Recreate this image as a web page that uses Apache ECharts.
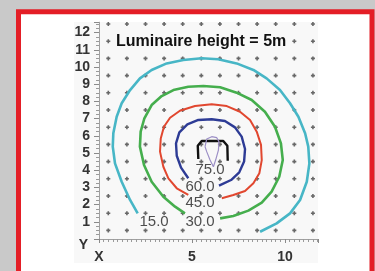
<!DOCTYPE html>
<html>
<head>
<meta charset="utf-8">
<script src="https://cdn.jsdelivr.net/npm/echarts@6/dist/echarts.min.js"></script>
<style>
  html,body{margin:0;padding:0;background:#c9c9c9;}
  #isoChart{width:375px;height:271px;}
</style>
</head>
<body>
<div id="isoChart"></div>
<script>
  // grid of measuring points (half-metre offsets)
  var gridX = [0.5,1.5,2.5,3.5,4.5,5.5,6.5,7.5,8.5,9.5,10.5,11.5];
  var gridY = [0.5,1.5,2.5,3.5,4.5,5.5,6.5,7.5,8.5,9.5,10.5,11.5,12.5];

  // isolines
  var line15 = [[2.08,1.49],[1.67,2.27],[1.22,3.33],[0.86,4.40],[0.74,5.37],[0.77,6.15],[0.95,7.11],[1.22,7.89],[1.67,8.66],[2.20,9.34],[2.83,9.83],[3.64,10.21],[4.53,10.41],[5.52,10.51],[6.41,10.45],[7.40,10.21],[8.30,9.83],[9.01,9.34],[9.73,8.66],[10.27,7.89],[10.72,7.11],[11.08,6.15],[11.25,5.37],[11.31,4.40],[11.17,3.33],[10.81,2.27],[10.27,1.49],[9.55,0.91],[8.66,0.42]];
  var line30 = [[4.62,1.49],[4.09,1.88],[3.46,2.46],[2.83,3.33],[2.42,4.30],[2.20,5.37],[2.24,6.24],[2.44,7.02],[2.83,7.79],[3.37,8.31],[4.00,8.66],[4.80,8.85],[5.61,8.90],[6.51,8.82],[7.40,8.51],[8.21,8.08],[8.92,7.40],[9.46,6.53],[9.78,5.56],[9.88,4.59],[9.69,3.62],[9.28,2.75],[8.75,2.11],[8.03,1.65],[7.22,1.34],[6.51,1.20]];
  var line45 = [[4.80,2.56],[4.18,2.95],[3.73,3.53],[3.46,4.20],[3.28,5.08],[3.32,5.85],[3.49,6.53],[3.82,7.05],[4.35,7.46],[5.16,7.73],[6.06,7.83],[6.87,7.73],[7.58,7.40],[8.12,6.92],[8.48,6.24],[8.71,5.47],[8.75,4.59],[8.62,3.82],[8.30,3.24],[7.85,2.79],[7.22,2.56],[6.60,2.37]];
  var line60 = [[4.80,3.53],[4.41,4.15],[4.18,4.84],[4.14,5.56],[4.32,6.20],[4.75,6.67],[5.34,6.92],[6.06,6.96],[6.77,6.86],[7.31,6.49],[7.67,5.95],[7.85,5.23],[7.80,4.50],[7.54,3.88],[7.10,3.43],[6.45,3.10]];
  var line75 = [[5.34,4.65],[5.31,5.42],[5.52,5.70],[6.68,5.70],[6.90,5.42],[6.92,4.55]];
  var line90 = [[5.70,5.37],[5.79,5.81],[6.06,5.95],[6.33,5.89],[6.45,5.66],[6.42,5.17],[6.27,4.59],[6.15,4.20],[5.97,4.59],[5.79,5.08],[5.70,5.37]];

  var isoLabels = ["15.0","30.0","45.0","60.0","75.0"];
  var isoLabelPos = [[2.96,1.01],[5.43,1.01],[5.43,2.08],[5.43,3.01],[5.97,4.01]];

  var plusPath = 'path://M3,0 L7,0 L7,3 L10,3 L10,7 L7,7 L7,10 L3,10 L3,7 L0,7 L0,3 L3,3 Z';

  var dots = [];
  gridX.forEach(function(x){
    gridY.forEach(function(y){
      dots.push([x,y]);
    });
  });

  var labelData = [];
  for(var i=0;i<isoLabels.length;i++){
    labelData.push({value:isoLabelPos[i], name:isoLabels[i]});
  }

  function isoLine(data,color,width){
    return {
      type:'line',
      data:data,
      showSymbol:false,
      symbol:'none',
      smooth:false,
      silent:true,
      z:3,
      lineStyle:{color:color,width:width}
    };
  }

  var axisGray = '#8a8a8a';

  var option = {
    backgroundColor:'#c9c9c9',
    animation:false,
    graphic:[
      {type:'rect',z:-10,shape:{x:18.5,y:11.7,width:353.5,height:300},
        style:{fill:'#ffffff',stroke:'#e41e26',lineWidth:5}},
      {type:'rect',z:-9,shape:{x:74,y:22,width:244,height:241},
        style:{fill:'#f8f8f8'}}
    ],
    title:{
      text:'Luminaire height = 5m',
      left:112,
      top:33,
      padding:[1,4],
      backgroundColor:'#f8f8f8',
      textStyle:{fontFamily:'Liberation Sans',fontSize:16,fontWeight:'bold',color:'#111'}
    },
    grid:{left:99,right:56.5,top:22.3,bottom:32},
    xAxis:[{
      type:'value',min:0,max:11.8,interval:5,
      axisLine:{show:true,lineStyle:{color:axisGray,width:1}},
      axisTick:{show:true,length:4,lineStyle:{color:axisGray}},
      minorTick:{show:true,splitNumber:20,length:3,lineStyle:{color:'#9a9a9a'}},
      splitLine:{show:false},
      axisLabel:{margin:11,showMaxLabel:false,fontFamily:'Liberation Sans',fontSize:14,fontWeight:'bold',color:'#333',
        formatter:function(v){ if(v===0) return 'X'; return (v%1===0)? String(v):''; }}
    },{
      type:'value',min:0,max:11.8,position:'bottom',offset:3,
      axisLine:{show:true,lineStyle:{color:'#a0a0a0',width:1}},
      axisTick:{show:false},axisLabel:{show:false},splitLine:{show:false}
    }],
    yAxis:[{
      type:'value',min:0,max:12.6,interval:1,
      axisLine:{show:true,lineStyle:{color:axisGray,width:1}},
      axisTick:{show:true,length:5,lineStyle:{color:axisGray}},
      minorTick:{show:true,splitNumber:4,length:3,lineStyle:{color:'#9a9a9a'}},
      splitLine:{show:false},
      axisLabel:{margin:9,showMaxLabel:false,fontFamily:'Liberation Sans',fontSize:14,fontWeight:'bold',color:'#333',
        formatter:function(v){ if(v===0) return '{y|Y}'; return (v%1===0)? String(v):''; },
        rich:{y:{padding:[12,2,0,0],fontFamily:'Liberation Sans',fontSize:14,fontWeight:'bold',color:'#333'}}}
    },{
      type:'value',min:0,max:12.6,position:'left',offset:3,
      axisLine:{show:true,lineStyle:{color:'#a0a0a0',width:1}},
      axisTick:{show:false},axisLabel:{show:false},splitLine:{show:false}
    }],
    series:[
      {
        type:'scatter',
        data:dots,
        symbol:plusPath,
        symbolSize:4,
        silent:true,
        z:1,
        itemStyle:{color:'#444'}
      },
      isoLine(line15,'#47b6c6',2.6),
      isoLine(line30,'#45ae4d',2.6),
      isoLine(line45,'#e1472f',2),
      isoLine(line60,'#2d3b95',2.4),
      isoLine(line75,'#111111',2.4),
      isoLine(line90,'#9c8fc6',1.2),
      {
        type:'scatter',
        data:labelData,
        symbolSize:0,
        silent:true,
        z:5,
        label:{show:true,position:'inside',formatter:'{b}',
          fontFamily:'Liberation Sans',fontSize:15,color:'#222'}
      }
    ]
  };

  var myChart = echarts.init(document.getElementById("isoChart"));
  option && myChart.setOption(option, true);
</script>
</body>
</html>
